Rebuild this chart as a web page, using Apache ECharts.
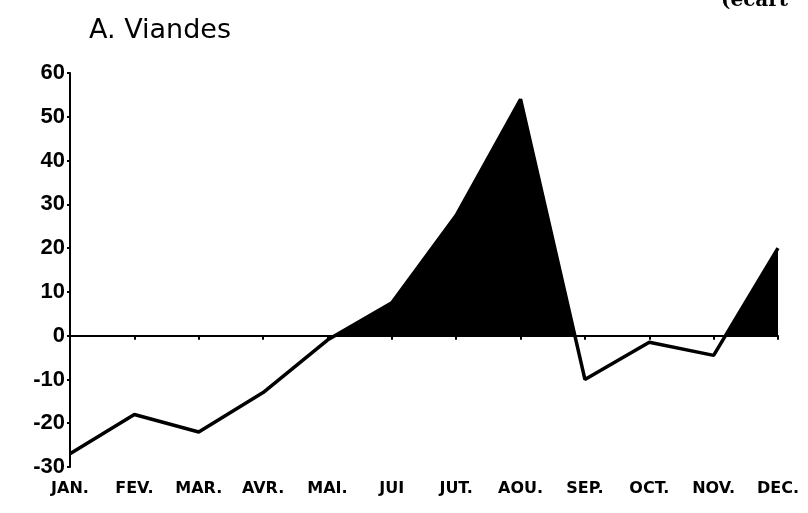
<!DOCTYPE html>
<html>
<head>
<meta charset="utf-8">
<script src="https://cdn.jsdelivr.net/npm/echarts@6/dist/echarts.min.js"></script>
<style>html,body{margin:0;padding:0;background:#fff}#c{width:808px;height:513px}</style>
</head>
<body>
<div id="c"></div>
<script>
const months = ['JAN.', 'FEV.', 'MAR.', 'AVR.', 'MAI.', 'JUI', 'JUT.', 'AOU.', 'SEP.', 'OCT.', 'NOV.', 'DEC.'];
const ecart = [-27, -18, -22, -13, -1, 7.5, 27.5, 54, -10, -1.5, -4.5, 20];
const yTicks = { min: -30, max: 60, interval: 10 };
const titleText = 'A. Viandes';
const cornerText = '(écart';

// area only above zero: gradient stop at the zero level of the area's bounding box
const vMax = Math.max(...ecart, 0);
const vMin = Math.min(...ecart, 0);
const zeroFrac = vMax / (vMax - vMin);
const areaFill = new echarts.graphic.LinearGradient(0, 0, 0, 1, [
  { offset: 0, color: '#000' },
  { offset: zeroFrac, color: '#000' },
  { offset: zeroFrac, color: 'rgba(0,0,0,0)' },
  { offset: 1, color: 'rgba(0,0,0,0)' }
]);

const chart = echarts.init(document.getElementById('c'));
const fontFam = 'DejaVu Sans, Liberation Sans, sans-serif';
chart.setOption({
  animation: false,
  backgroundColor: '#fff',
  title: [
    { text: titleText, left: 84, top: 12, textStyle: { fontFamily: fontFam, fontSize: 27, fontWeight: 'normal', color: '#000' } },
    { text: cornerText, left: 716, top: -14, textStyle: { fontFamily: 'DejaVu Serif', fontSize: 20, fontWeight: 'bold', color: '#000' } }
  ],
  grid: { left: 70, right: 30, top: 73, bottom: 46, containLabel: false },
  xAxis: [
    {
      type: 'category', data: months, boundaryGap: false, position: 'bottom',
      axisLine: { show: true, onZero: true, lineStyle: { color: '#000', width: 2 } },
      axisTick: { show: true, length: 4, lineStyle: { color: '#000', width: 2 } },
      axisLabel: { show: false }, splitLine: { show: false }
    },
    {
      type: 'category', data: months, boundaryGap: false, position: 'bottom',
      axisLine: { show: false, onZero: false }, axisTick: { show: false },
      axisLabel: { show: true, interval: 0, color: '#000', fontFamily: fontFam, fontWeight: 'bold', fontSize: 16, margin: 14 },
      splitLine: { show: false }
    }
  ],
  yAxis: {
    type: 'value', min: yTicks.min, max: yTicks.max, interval: yTicks.interval,
    axisLine: { show: true, lineStyle: { color: '#000', width: 2 } },
    axisTick: { show: true, length: 3, lineStyle: { color: '#000', width: 2 } },
    axisLabel: { color: '#000', fontFamily: 'Liberation Sans, Arial, sans-serif', fontSize: 22, fontWeight: 'bold', margin: 5 },
    splitLine: { show: false }
  },
  series: [
    {
      type: 'line', data: ecart, xAxisIndex: 0, symbol: 'none', z: 3,
      lineStyle: { color: '#000', width: 3.5 }, itemStyle: { color: '#000' }
    },
    {
      type: 'line', data: ecart, xAxisIndex: 0, symbol: 'none', z: 2,
      lineStyle: { width: 0, color: 'rgba(0,0,0,0)' },
      areaStyle: { opacity: 1, origin: 0, color: areaFill }
    }
  ]
});
</script>
</body>
</html>
